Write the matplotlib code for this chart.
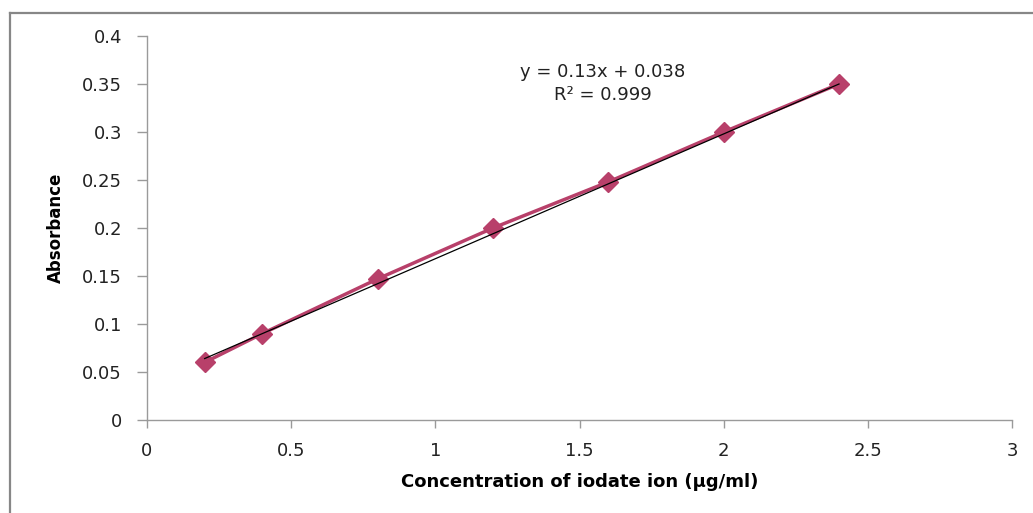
""" Calibration curve for iodate ion """

import numpy as np
import matplotlib
import matplotlib.pyplot as plt
from matplotlib.lines import Line2D

matplotlib.use('Agg')

conc = [0.2, 0.4, 0.8, 1.2, 1.6, 2.0, 2.4]
absorbance = [0.06, 0.09, 0.147, 0.2, 0.248, 0.3, 0.35]
slope, intercept = 0.13, 0.038
x_ticks = [0, 0.5, 1, 1.5, 2, 2.5, 3]
y_ticks = [0, 0.05, 0.1, 0.15, 0.2, 0.25, 0.3, 0.35, 0.4]

plt.rcParams['font.family'] = ['DejaVu Sans']

fig = plt.figure(figsize=(10.33, 5.13), dpi=100)
ax = fig.add_axes([147 / 1033, 93 / 513, (1012 - 147) / 1033, (420 - 36) / 513])

# chart frame (top and left edges visible)
frame_kw = dict(color='#878787', linewidth=1.6, transform=fig.transFigure)
fig.add_artist(Line2D([9.5 / 1033, 1.01], [1 - 12.5 / 513] * 2, **frame_kw))
fig.add_artist(Line2D([9.5 / 1033] * 2, [-0.01, 1 - 12.5 / 513], **frame_kw))

ax.plot(conc, absorbance, color='#B8406A', linewidth=2.5, marker='D',
        markersize=10.5, zorder=2)
fit_x = np.array([conc[0], conc[-1]])
ax.plot(fit_x, slope * fit_x + intercept, color='black', linewidth=0.9, zorder=3)

ax.set_xlim(0, 3)
ax.set_ylim(0, 0.4)
ax.set_xticks(x_ticks)
ax.set_yticks(y_ticks)
ax.set_xticklabels([f"{t:g}" for t in x_ticks])
ax.set_yticklabels([f"{t:g}" for t in y_ticks])

for side in ('top', 'right'):
    ax.spines[side].set_visible(False)
for side in ('left', 'bottom'):
    ax.spines[side].set_color('#9A9A9A')
    ax.spines[side].set_linewidth(1.0)

ax.tick_params(axis='y', direction='out', length=7, width=1, color='#9A9A9A',
               labelsize=13, pad=11, labelcolor='#222222')
ax.tick_params(axis='x', direction='out', length=6, width=1, color='#9A9A9A',
               labelsize=13, pad=10, labelcolor='#222222')

ax.set_xlabel("Concentration of iodate ion (μg/ml)", fontsize=13, fontweight='bold',
              labelpad=9)
ax.set_ylabel("Absorbance", fontsize=12, fontweight='bold', labelpad=12)

ax.text(1.58, 0.3505, "y = 0.13x + 0.038\nR² = 0.999", ha='center', va='center',
        fontsize=13, linespacing=1.4, color='#222222')

fig.savefig("out.png", dpi=100)
